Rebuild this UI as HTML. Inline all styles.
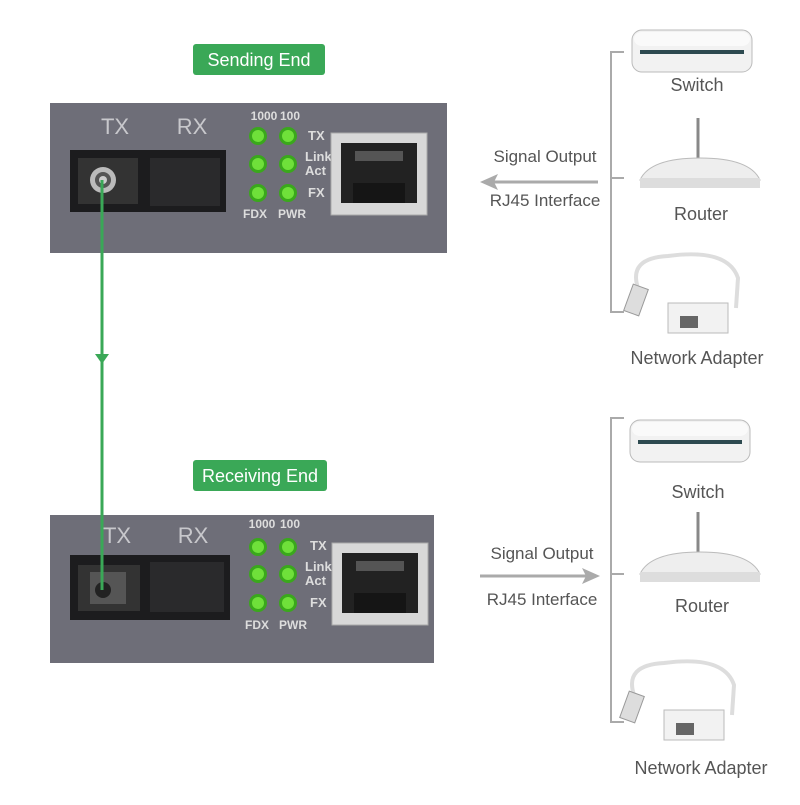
<!DOCTYPE html>
<html><head><style>
body{margin:0;background:#fff}
svg text{font-family:"Liberation Sans",sans-serif}
</style></head><body>
<svg width="800" height="800" viewBox="0 0 800 800" xmlns="http://www.w3.org/2000/svg">
<defs>
<g id="led"><circle r="9" fill="#3aa81c"/><circle r="6" fill="#6fe03a"/></g>
<g id="rj"><rect x="0" y="0" width="96" height="82" fill="#d8d8d8" stroke="#aaa"/><rect x="10" y="10" width="76" height="60" fill="#222"/><rect x="22" y="50" width="52" height="20" fill="#151515"/><rect x="24" y="18" width="48" height="10" fill="#555"/></g>
<g id="sw"><rect x="0" y="0" width="120" height="42" rx="10" fill="#f2f2f2" stroke="#bbb"/><rect x="2" y="2" width="116" height="14" rx="8" fill="#fafafa"/><rect x="8" y="20" width="104" height="4" fill="#2d4a50"/></g>
<g id="router"><line x1="58" y1="0" x2="58" y2="45" stroke="#888" stroke-width="3"/><path d="M0 62 Q10 40 60 40 Q110 40 120 62 Z" fill="#eee" stroke="#bbb"/><rect x="0" y="60" width="120" height="10" fill="#ddd"/></g>
<g id="adapter"><path d="M10 40 Q0 10 40 8 Q100 0 110 30 L108 60" fill="none" stroke="#ddd" stroke-width="4"/><rect x="0" y="38" width="16" height="28" fill="#ddd" stroke="#999" transform="rotate(20 8 52)"/><rect x="40" y="55" width="60" height="30" fill="#f2f2f2" stroke="#bbb"/><rect x="52" y="68" width="18" height="12" fill="#666"/></g>
</defs>

<rect x="193" y="44" width="132" height="31" rx="3" fill="#3aa857"/>
<text x="259" y="66" font-size="18" fill="#fff" text-anchor="middle">Sending End</text>
<rect x="193" y="460" width="134" height="31" rx="3" fill="#3aa857"/>
<text x="260" y="482" font-size="18" fill="#fff" text-anchor="middle">Receiving End</text>

<rect x="50" y="103" width="397" height="150" fill="#6e6e78"/>
<text x="115" y="134" font-size="22" fill="#c8c8cc" text-anchor="middle">TX</text>
<text x="192" y="134" font-size="22" fill="#c8c8cc" text-anchor="middle">RX</text>
<rect x="70" y="150" width="156" height="62" fill="#1c1c1e"/>
<rect x="78" y="158" width="60" height="46" fill="#333"/>
<circle cx="103" cy="180" r="13" fill="#bbb"/><circle cx="103" cy="180" r="8" fill="#555"/><circle cx="103" cy="180" r="4" fill="#ccc"/>
<rect x="150" y="158" width="70" height="48" fill="#2a2a2c"/>
<text x="264" y="120" font-size="12" fill="#ddd" font-weight="bold" text-anchor="middle">1000</text>
<text x="290" y="120" font-size="12" fill="#ddd" font-weight="bold" text-anchor="middle">100</text>
<use href="#led" x="258" y="136"/><use href="#led" x="288" y="136"/>
<use href="#led" x="258" y="164"/><use href="#led" x="288" y="164"/>
<use href="#led" x="258" y="193"/><use href="#led" x="288" y="193"/>
<text x="308" y="140" font-size="13" fill="#ddd" font-weight="bold">TX</text>
<text x="305" y="161" font-size="13" fill="#ddd" font-weight="bold">Link</text>
<text x="305" y="175" font-size="13" fill="#ddd" font-weight="bold">Act</text>
<text x="308" y="197" font-size="13" fill="#ddd" font-weight="bold">FX</text>
<text x="243" y="218" font-size="12" fill="#ddd" font-weight="bold">FDX</text>
<text x="278" y="218" font-size="12" fill="#ddd" font-weight="bold">PWR</text>
<use href="#rj" x="331" y="133"/>

<rect x="50" y="515" width="384" height="148" fill="#6e6e78"/>
<text x="117" y="543" font-size="22" fill="#c8c8cc" text-anchor="middle">TX</text>
<text x="193" y="543" font-size="22" fill="#c8c8cc" text-anchor="middle">RX</text>
<rect x="70" y="555" width="160" height="65" fill="#1c1c1e"/>
<rect x="78" y="565" width="62" height="46" fill="#333"/>
<rect x="90" y="572" width="36" height="32" fill="#555"/>
<circle cx="103" cy="590" r="8" fill="#222"/>
<rect x="150" y="562" width="74" height="50" fill="#2a2a2c"/>
<text x="262" y="528" font-size="12" fill="#ddd" font-weight="bold" text-anchor="middle">1000</text>
<text x="290" y="528" font-size="12" fill="#ddd" font-weight="bold" text-anchor="middle">100</text>
<use href="#led" x="258" y="547"/><use href="#led" x="288" y="547"/>
<use href="#led" x="258" y="574"/><use href="#led" x="288" y="574"/>
<use href="#led" x="258" y="603"/><use href="#led" x="288" y="603"/>
<text x="310" y="550" font-size="13" fill="#ddd" font-weight="bold">TX</text>
<text x="305" y="571" font-size="13" fill="#ddd" font-weight="bold">Link</text>
<text x="305" y="585" font-size="13" fill="#ddd" font-weight="bold">Act</text>
<text x="310" y="607" font-size="13" fill="#ddd" font-weight="bold">FX</text>
<text x="245" y="629" font-size="12" fill="#ddd" font-weight="bold">FDX</text>
<text x="279" y="629" font-size="12" fill="#ddd" font-weight="bold">PWR</text>
<use href="#rj" x="332" y="543"/>

<line x1="102" y1="180" x2="102" y2="590" stroke="#3aa857" stroke-width="3"/>
<path d="M95 354 L109 354 L102 364 Z" fill="#3aa857"/>

<text x="545" y="162" font-size="17" fill="#555" text-anchor="middle">Signal Output</text>
<text x="545" y="206" font-size="17" fill="#555" text-anchor="middle">RJ45 Interface</text>
<line x1="492" y1="182" x2="598" y2="182" stroke="#aaa" stroke-width="3"/>
<path d="M480 182 L498 174 L494 182 L498 190 Z" fill="#aaa"/>
<path d="M624 52 L611 52 L611 312 L624 312" fill="none" stroke="#aaa" stroke-width="2"/>
<line x1="611" y1="178" x2="624" y2="178" stroke="#aaa" stroke-width="2"/>
<use href="#sw" x="632" y="30"/>
<text x="697" y="91" font-size="18" fill="#555" text-anchor="middle">Switch</text>
<use href="#router" x="640" y="118"/>
<text x="701" y="220" font-size="18" fill="#555" text-anchor="middle">Router</text>
<use href="#adapter" x="628" y="248"/>
<text x="697" y="364" font-size="18" fill="#555" text-anchor="middle">Network Adapter</text>

<text x="542" y="559" font-size="17" fill="#555" text-anchor="middle">Signal Output</text>
<text x="542" y="605" font-size="17" fill="#555" text-anchor="middle">RJ45 Interface</text>
<line x1="480" y1="576" x2="586" y2="576" stroke="#aaa" stroke-width="3"/>
<path d="M600 576 L582 568 L586 576 L582 584 Z" fill="#aaa"/>
<path d="M624 418 L611 418 L611 722 L624 722" fill="none" stroke="#aaa" stroke-width="2"/>
<line x1="611" y1="574" x2="624" y2="574" stroke="#aaa" stroke-width="2"/>
<use href="#sw" x="630" y="420"/>
<text x="698" y="498" font-size="18" fill="#555" text-anchor="middle">Switch</text>
<use href="#router" x="640" y="512"/>
<text x="702" y="612" font-size="18" fill="#555" text-anchor="middle">Router</text>
<use href="#adapter" x="624" y="655"/>
<text x="701" y="774" font-size="18" fill="#555" text-anchor="middle">Network Adapter</text>
</svg>
</body></html>
